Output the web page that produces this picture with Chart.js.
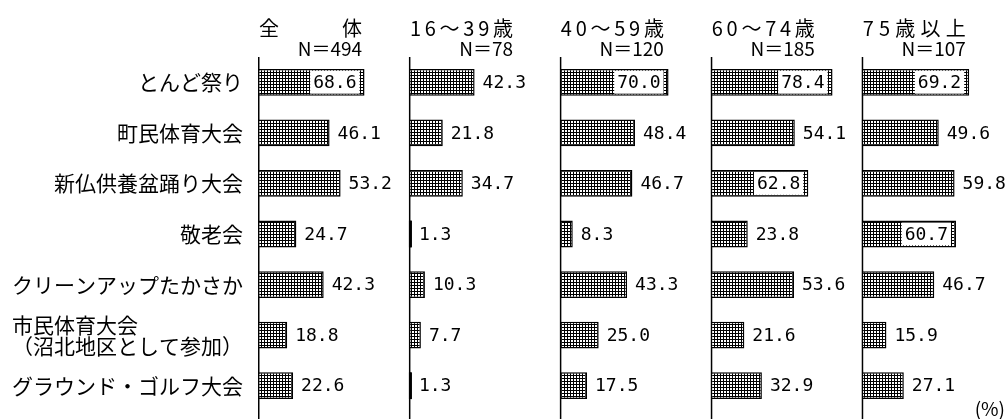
<!DOCTYPE html>
<html lang="ja">
<head>
<meta charset="utf-8">
<script src="https://cdn.jsdelivr.net/npm/chart.js@4.4.1/dist/chart.umd.min.js"></script>
<style>
  html, body { margin: 0; padding: 0; background: #fff; }
  #wrap { position: relative; width: 1008px; height: 419px; }
</style>
</head>
<body>
<div id="wrap"><canvas id="eventChart"></canvas></div>
<script>
// 行事ごとの参加率（%）
const events = [
  "とんど祭り",
  "町民体育大会",
  "新仏供養盆踊り大会",
  "敬老会",
  "クリーンアップたかさか",
  ["市民体育大会　　　　　", "（沼北地区として参加）"],
  "グラウンド・ゴルフ大会"
];
const groupNames = ["全体", "16～39歳", "40～59歳", "60～74歳", "75歳以上"];
const groupN = ["N＝494", "N＝78", "N＝120", "N＝185", "N＝107"];

const valuesAll   = [68.6, 46.1, 53.2, 24.7, 42.3, 18.8, 22.6];
const values16_39 = [42.3, 21.8, 34.7, 1.3, 10.3, 7.7, 1.3];
const values40_59 = [70.0, 48.4, 46.7, 8.3, 43.3, 25.0, 17.5];
const values60_74 = [78.4, 54.1, 62.8, 23.8, 53.6, 21.6, 32.9];
const values75up  = [69.2, 49.6, 59.8, 60.7, 46.7, 15.9, 27.1];

const groupValues = [valuesAll, values16_39, values40_59, values60_74, values75up];
const panelMax = [97.2, 97.2, 97.2, 97.2, 94.2];

// 網掛けパターン
function makeDots() {
  const c = document.createElement("canvas");
  c.width = 3; c.height = 3;
  const g = c.getContext("2d");
  g.fillStyle = "#fff";
  g.fillRect(0, 0, 3, 3);
  g.fillStyle = "#000";
  g.fillRect(0, 0, 3, 1);
  g.fillRect(0, 0, 1, 3);
  return g.createPattern(c, "repeat");
}
const dots = makeDots();

const jpFont = '"Noto Sans CJK JP", sans-serif';
const numFont = '"DejaVu Sans Mono", monospace';

const scales = {
  y: {
    type: "category",
    position: "left",
    offset: true,
    grid: { display: false, drawTicks: false },
    border: { display: false },
    ticks: {
      color: "#000",
      padding: 15,
      font: { family: jpFont, size: 21, lineHeight: 1.0 }
    },
    afterFit: s => {
      s.width = 258;
      s.paddingTop = 0;
      s.paddingBottom = 0;
    }
  }
};
groupValues.forEach((vals, i) => {
  scales["x" + i] = {
    type: "linear",
    display: false,
    position: "bottom",
    stack: "panels",
    stackWeight: panelMax[i],
    min: 0,
    max: panelMax[i]
  };
});

function drawJustified(ctx, text, left, right, y) {
  const chars = Array.from(text);
  const widths = chars.map(ch => ctx.measureText(ch).width);
  const total = widths.reduce((a, b) => a + b, 0);
  const gap = chars.length > 1 ? (right - left - total) / (chars.length - 1) : 0;
  let x = left;
  ctx.textAlign = "left";
  chars.forEach((ch, k) => {
    ctx.fillText(ch, x, y);
    x += widths[k] + gap;
  });
}

const panelPlugin = {
  id: "panelPlugin",
  beforeDatasetsDraw(chart) {
    const ctx = chart.ctx;
    const top = chart.chartArea.top;
    ctx.save();
    ctx.strokeStyle = "#000";
    ctx.lineWidth = 1.5;
    groupValues.forEach((vals, i) => {
      const x = chart.scales["x" + i].getPixelForValue(0) + 0.75;
      ctx.beginPath();
      ctx.moveTo(x, top);
      ctx.lineTo(x, chart.height);
      ctx.stroke();
    });
    ctx.restore();
  },
  afterDatasetsDraw(chart) {
    const ctx = chart.ctx;
    const top = chart.chartArea.top;
    ctx.save();
    ctx.fillStyle = "#000";
    ctx.textBaseline = "middle";

    groupValues.forEach((vals, i) => {
      const sc = chart.scales["x" + i];
      const left = sc.getPixelForValue(0) + 1;
      const right = sc.getPixelForValue(67);
      // 見出し
      ctx.font = "20px " + jpFont;
      drawJustified(ctx, groupNames[i], left, right, top - 29);
      ctx.font = "19px " + jpFont;
      ctx.textAlign = "right";
      ctx.fillText(groupN[i], right, top - 8);

      // 数値ラベル
      const meta = chart.getDatasetMeta(i);
      ctx.font = "18px " + numFont;
      meta.data.forEach((bar, k) => {
        const v = vals[k];
        const txt = v.toFixed(1);
        // 細い棒は黒く塗りつぶす
        if (bar.x - bar.base < 4) {
          ctx.fillRect(bar.base, bar.y - bar.height / 2, bar.x - bar.base + 1, bar.height);
        }
        if (v >= 60) {
          const w = ctx.measureText(txt).width;
          const tx = bar.x - 8;
          ctx.fillStyle = "#fff";
          ctx.fillRect(tx - w - 3, bar.y - bar.height / 2 + 2, w + 6, bar.height - 4);
          ctx.fillStyle = "#000";
          ctx.textAlign = "right";
          ctx.fillText(txt, tx, bar.y + 1);
        } else {
          ctx.textAlign = "left";
          ctx.fillText(txt, bar.x + 8, bar.y + 1);
        }
      });
    });

    ctx.font = "19px " + jpFont;
    ctx.textAlign = "right";
    ctx.fillText("(%)", chart.width - 3, chart.height - 10);
    ctx.restore();
  }
};

new Chart(document.getElementById("eventChart"), {
  type: "bar",
  data: {
    labels: events,
    datasets: groupValues.map((vals, i) => ({
      label: groupNames[i],
      data: vals,
      xAxisID: "x" + i,
      yAxisID: "y",
      backgroundColor: dots,
      borderColor: "#000",
      borderWidth: 1.5,
      borderSkipped: false,
      grouped: false,
      categoryPercentage: 0.53,
      barPercentage: 1
    }))
  },
  options: {
    indexAxis: "y",
    responsive: true,
    maintainAspectRatio: false,
    animation: false,
    layout: { padding: { top: 57, bottom: 8, left: 0, right: 0 } },
    plugins: {
      legend: { display: false },
      tooltip: { enabled: false }
    },
    scales: scales
  },
  plugins: [panelPlugin]
});
</script>
</body>
</html>
